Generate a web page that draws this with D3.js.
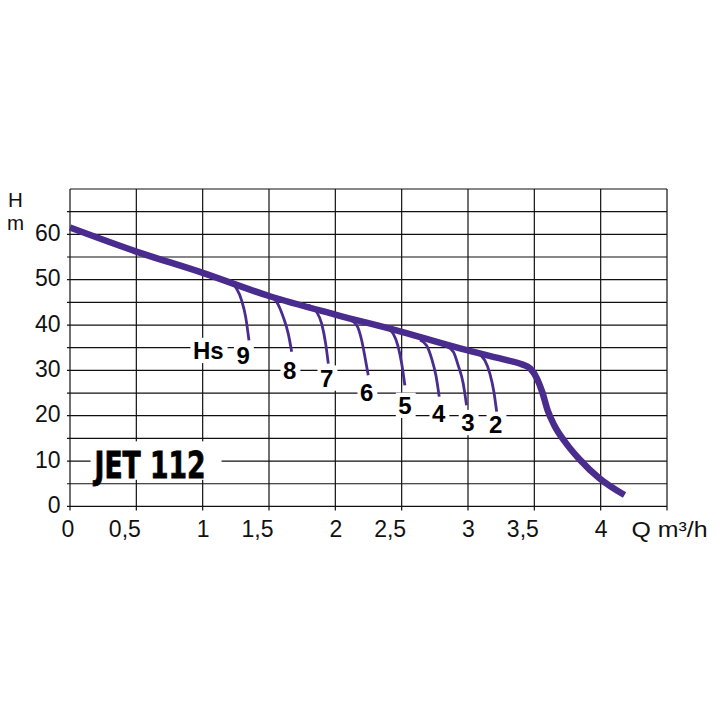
<!DOCTYPE html>
<html>
<head>
<meta charset="utf-8">
<script src="https://cdn.jsdelivr.net/npm/d3@7"></script>
<style>
body{margin:0;background:#fff;}
svg{display:block;font-family:"Liberation Sans",Arial,Helvetica,sans-serif;}
</style>
</head>
<body>
<svg id="chart"></svg>
<script>
// pump curve, Q in m3/h and H in m
var curveQ = [0, 0.5, 1, 1.5, 2, 2.5, 3, 3.3, 3.4, 3.47, 3.52, 3.56, 3.6, 3.65, 3.74, 3.84, 3.99, 4.18];
var curveH = [61.5, 56.2, 51.5, 46.4, 42.3, 38.5, 34.4, 32.2, 31.4, 30.4, 28.2, 25.2, 21.2, 17.9, 13.9, 10.4, 6.2, 2.5];

// suction height branches (Hs 9 ... 2)
var branchNames = ["9", "8", "7", "6", "5", "4", "3", "2"];
var branchQ = [
    [1.206, 1.256, 1.294, 1.324, 1.349],
    [1.507, 1.558, 1.607, 1.645, 1.671],
    [1.796, 1.859, 1.897, 1.927, 1.947],
    [2.110, 2.160, 2.198, 2.223, 2.248],
    [2.399, 2.436, 2.474, 2.500, 2.524],
    [2.638, 2.688, 2.726, 2.758, 2.783],
    [2.839, 2.889, 2.926, 2.964, 2.989],
    [3.077, 3.127, 3.165, 3.195, 3.216]
];
var branchH = [
    [49.2, 48.0, 45.4, 41.8, 36.6],
    [46.3, 45.1, 41.8, 38.1, 34.1],
    [44.4, 42.9, 40.3, 35.9, 31.5],
    [41.1, 40.0, 36.7, 33.0, 28.9],
    [39.1, 38.1, 35.2, 31.5, 26.7],
    [36.7, 35.5, 32.6, 28.9, 24.2],
    [35.2, 34.1, 31.1, 27.1, 22.3],
    [33.7, 32.2, 29.3, 25.3, 20.9]
];
// where the branch numbers sit
var labelQ = [1.305, 1.656, 1.935, 2.236, 2.525, 2.779, 2.999, 3.209];
var labelH = [33.3, 30.0, 28.3, 25.1, 22.3, 20.6, 18.5, 18.1];
var hsQ = 1.042, hsH = 34.4;

var xTicks = [0, 0.5, 1, 1.5, 2, 2.5, 3, 3.5, 4];
var xTickLabels = ["0", "0,5", "1", "1,5", "2", "2,5", "3", "3,5", "4"];
var yTicks = [0, 10, 20, 30, 40, 50, 60];
var modelName = "JET 112";

function init(){
    var width = 720;
    var height = 720;
    var purple = "#4a2c8e";
    var svg = d3.select("#chart").attr("width", width).attr("height", height);

    var x = d3.scaleLinear().domain([0, 4.5]).range([70, 667]);
    var y = d3.scaleLinear().domain([0, 70]).range([506.4, 189]);

    // grid
    var grid = svg.append("g").attr("stroke", "#111").attr("stroke-width", 1.2);
    grid.selectAll(".v")
        .data(d3.range(0, 4.51, 0.5))
        .enter()
        .append("line")
        .attr("x1", function(d){return x(d)})
        .attr("x2", function(d){return x(d)})
        .attr("y1", y(70))
        .attr("y2", y(0) + 4);
    grid.selectAll(".h")
        .data(d3.range(0, 71, 5))
        .enter()
        .append("line")
        .attr("x1", function(d){return d == 70 ? x(0) : x(0) - 3})
        .attr("x2", x(4.5))
        .attr("y1", function(d){return y(d)})
        .attr("y2", function(d){return y(d)});

    // axes (labels only, the grid does the lines)
    var xAxis = d3.axisBottom(x)
        .tickValues(xTicks)
        .tickFormat(function(d, i){return xTickLabels[i]})
        .tickSize(0)
        .tickPadding(13.8);
    var gx = svg.append("g")
        .attr("transform", "translate(0," + y(0) + ")")
        .call(xAxis);
    gx.select(".domain").remove();
    gx.attr("font-size", 23).attr("font-family", null).style("color", "#111");
    gx.selectAll("text")
        .attr("text-anchor", function(d){return d % 1 ? "end" : "middle"})
        .attr("dx", function(d){return d % 1 ? 4 : (d == 0 ? -2.5 : 0)});

    var yAxis = d3.axisLeft(y)
        .tickValues(yTicks)
        .tickSize(0)
        .tickPadding(9.5);
    var gy = svg.append("g")
        .attr("transform", "translate(" + x(0) + ",0)")
        .call(yAxis);
    gy.select(".domain").remove();
    gy.attr("font-size", 23).attr("font-family", null).style("color", "#111");
    gy.selectAll("text").attr("dy", "0.26em");

    // axis titles
    svg.append("text").attr("x", 15.5).attr("y", 207).attr("text-anchor", "middle")
        .attr("font-size", 20.5).attr("fill", "#111").text("H");
    svg.append("text").attr("x", 15.5).attr("y", 230).attr("text-anchor", "middle")
        .attr("font-size", 20.5).attr("fill", "#111").text("m");
    svg.append("text").attr("x", 631.5).attr("y", 536.5)
        .attr("font-size", 22).attr("fill", "#111")
        .attr("textLength", 76).attr("lengthAdjust", "spacingAndGlyphs")
        .text("Q m\u00b3/h");

    // model name with white box over the grid
    var jet = svg.append("g");
    var jx = x(0.185), jy = y(6.3);
    jet.append("rect")
        .attr("x", jx - 4).attr("y", jy - 36.5)
        .attr("width", 111 + 20).attr("height", 38.5)
        .attr("fill", "#fff");
    jet.append("text")
        .attr("x", jx).attr("y", jy)
        .attr("font-family", "'Liberation Sans Narrow','DejaVu Sans Condensed','Liberation Sans',sans-serif")
        .attr("font-weight", "bold")
        .attr("font-size", 38)
        .attr("stroke", "#000").attr("stroke-width", 0.8)
        .attr("textLength", 111).attr("lengthAdjust", "spacingAndGlyphs")
        .text(modelName);

    // branch numbers with white boxes
    var items = [{t: "Hs", q: hsQ, h: hsH, fs: 24}];
    for(var i = 0; i < branchNames.length; i++){
        items.push({t: branchNames[i], q: labelQ[i], h: labelH[i], fs: 24});
    }
    var labels = svg.append("g").attr("font-weight", "bold").attr("text-anchor", "middle");
    items.forEach(function(d){
        var g = labels.append("g");
        var r = g.append("rect").attr("fill", "#fff");
        var t = g.append("text")
            .attr("x", x(d.q))
            .attr("y", y(d.h) + 0.36 * d.fs)
            .attr("font-size", d.fs)
            .attr("fill", "#000")
            .text(d.t);
        var w = t.node().getComputedTextLength();
        r.attr("x", x(d.q) - w / 2 - 2.5)
            .attr("width", w + 6.5)
            .attr("y", y(d.h) - 0.36 * d.fs - 4)
            .attr("height", 0.72 * d.fs + 8);
    });

    // curves
    var line = d3.line()
        .x(function(d){return x(d[0])})
        .y(function(d){return y(d[1])})
        .curve(d3.curveMonotoneX);

    var branches = svg.append("g");
    for(var b = 0; b < branchNames.length; b++){
        var pts = branchQ[b].map(function(q, k){return [q, branchH[b][k]]});
        branches.append("path")
            .attr("fill", "none")
            .attr("stroke", purple)
            .attr("stroke-width", 2.8)
            .attr("d", line(pts));
    }

    var main = curveQ.map(function(q, k){return [q, curveH[k]]});
    svg.append("path")
        .attr("fill", "none")
        .attr("stroke", purple)
        .attr("stroke-width", 6.5)
        .attr("stroke-linejoin", "round")
        .attr("d", line(main));
}
init();
</script>
</body>
</html>
